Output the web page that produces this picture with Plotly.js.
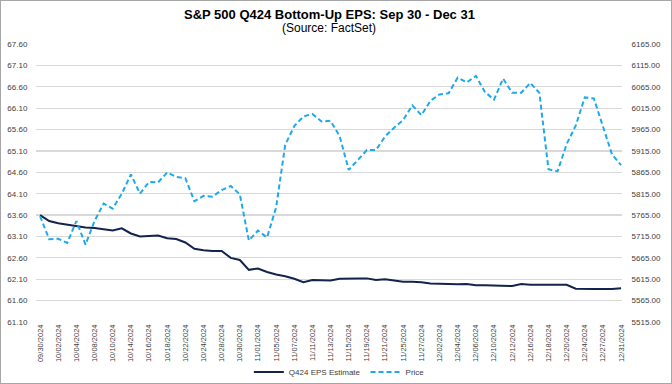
<!DOCTYPE html>
<html>
<head>
<meta charset="utf-8">
<script src="https://cdn.plot.ly/plotly-3.0.1.min.js"></script>
<style>
html,body{margin:0;padding:0;background:#fff;}
#frame{position:absolute;left:0;top:0;width:670px;height:382px;border:1px solid #a6a6a6;}
#chart{position:absolute;left:0;top:0;width:672px;height:384px;}
</style>
</head>
<body>
<div id="chart"></div>
<div id="frame"></div>
<script>
const dates = ["09/30/2024","10/01/2024","10/02/2024","10/03/2024","10/04/2024","10/07/2024","10/08/2024","10/09/2024","10/10/2024","10/11/2024",
"10/14/2024","10/15/2024","10/16/2024","10/17/2024","10/18/2024","10/21/2024","10/22/2024","10/23/2024","10/24/2024","10/25/2024",
"10/28/2024","10/29/2024","10/30/2024","10/31/2024","11/01/2024","11/04/2024","11/05/2024","11/06/2024","11/07/2024","11/08/2024",
"11/11/2024","11/12/2024","11/13/2024","11/14/2024","11/15/2024","11/18/2024","11/19/2024","11/20/2024","11/21/2024","11/22/2024",
"11/25/2024","11/26/2024","11/27/2024","11/29/2024","12/02/2024","12/03/2024","12/04/2024","12/05/2024","12/06/2024","12/09/2024",
"12/10/2024","12/11/2024","12/12/2024","12/13/2024","12/16/2024","12/17/2024","12/18/2024","12/19/2024","12/20/2024","12/23/2024",
"12/24/2024","12/26/2024","12/27/2024","12/30/2024","12/31/2024"];

const epsEstimate = [63.60,63.46,63.41,63.38,63.34,63.31,63.30,63.27,63.24,63.29,
63.17,63.10,63.11,63.12,63.06,63.04,62.96,62.81,62.78,62.76,
62.76,62.60,62.55,62.32,62.35,62.27,62.21,62.17,62.11,62.03,
62.08,62.07,62.07,62.11,62.12,62.12,62.12,62.08,62.10,62.07,
62.04,62.04,62.03,62.00,61.99,61.99,61.98,61.99,61.96,61.96,
61.95,61.94,61.94,61.99,61.97,61.97,61.97,61.97,61.97,61.88,
61.87,61.87,61.87,61.87,61.89];

const price = [5762.48,5708.75,5709.54,5699.94,5751.07,5695.94,5751.13,5792.04,5780.05,5815.03,
5859.85,5815.26,5842.47,5841.47,5864.67,5853.98,5851.20,5797.42,5809.86,5808.12,
5823.52,5832.92,5813.67,5705.45,5728.80,5712.69,5782.76,5929.04,5973.10,5995.54,
6001.35,5983.99,5985.38,5949.17,5870.62,5893.62,5916.98,5917.11,5948.71,5969.34,
5987.37,6021.63,5998.74,6032.38,6047.15,6049.88,6086.49,6075.11,6090.27,6052.85,
6034.91,6084.19,6051.25,6051.09,6074.08,6050.61,5872.16,5867.08,5930.85,5974.07,
6040.04,6037.59,5970.84,5906.94,5881.63];

const tickLabels = dates.filter((d, i) => i % 2 === 0);

const titleMain = "S&P 500 Q424 Bottom-Up EPS: Sep 30 - Dec 31";
const titleSub = "(Source: FactSet)";

const FONT = "Liberation Sans, Arial, sans-serif";

const traces = [
  {
    x: dates, y: epsEstimate, type: "scatter", mode: "lines", name: "Q424 EPS Estimate",
    line: {color: "#13234b", width: 2}, yaxis: "y"
  },
  {
    x: dates, y: price, type: "scatter", mode: "lines", name: "Price",
    line: {color: "#1fa9ea", width: 2, dash: "5px,3px"}, yaxis: "y2"
  }
];

const layout = {
  width: 672, height: 384,
  margin: {l: 36, r: 50, t: 44, b: 62, autoexpand: false},
  paper_bgcolor: "#ffffff", plot_bgcolor: "#ffffff",
  font: {family: FONT, color: "#404040", size: 8},
  annotations: [
    {text: "<b>" + titleMain + "</b>", xref: "paper", yref: "paper", x: 0.5, xanchor: "center",
     y: 1 + (44 - 14) / 278, yanchor: "middle", showarrow: false,
     font: {family: FONT, size: 13, color: "#000000"}},
    {text: titleSub, xref: "paper", yref: "paper", x: 0.5, xanchor: "center",
     y: 1 + (44 - 28) / 278, yanchor: "middle", showarrow: false,
     font: {family: FONT, size: 12, color: "#000000"}}
  ],
  xaxis: {
    type: "category",
    range: [-0.45, 64.1],
    tickmode: "array", tickvals: tickLabels, ticktext: tickLabels,
    tickangle: -90, tickfont: {size: 7.5, color: "#404040"},
    showgrid: false, zeroline: false, showline: false, ticks: "",
    automargin: false, fixedrange: true
  },
  yaxis: {
    range: [61.10, 67.60], dtick: 0.5, tick0: 61.10, tickformat: ".2f",
    showgrid: true, gridcolor: "#d9d9d9", gridwidth: 1.2,
    zeroline: false, showline: false, ticks: "outside", ticklen: 6, tickcolor: "rgba(0,0,0,0)",
    tickfont: {size: 8, color: "#404040"}, automargin: false
  },
  yaxis2: {
    range: [5515, 6165], dtick: 50, tick0: 5515, tickformat: ".2f",
    overlaying: "y", side: "right", showgrid: false,
    zeroline: false, showline: false, ticks: "outside", ticklen: 7, tickcolor: "rgba(0,0,0,0)",
    tickfont: {size: 8, color: "#404040"}, automargin: false
  },
  showlegend: true,
  legend: {
    orientation: "h", xref: "container", x: 0.505, xanchor: "center",
    y: -(372 - 322) / 278, yanchor: "middle",
    font: {size: 8, color: "#404040"}, bgcolor: "rgba(0,0,0,0)"
  }
};

Plotly.newPlot("chart", traces, layout, {displayModeBar: false, staticPlot: true});
</script>
</body>
</html>
